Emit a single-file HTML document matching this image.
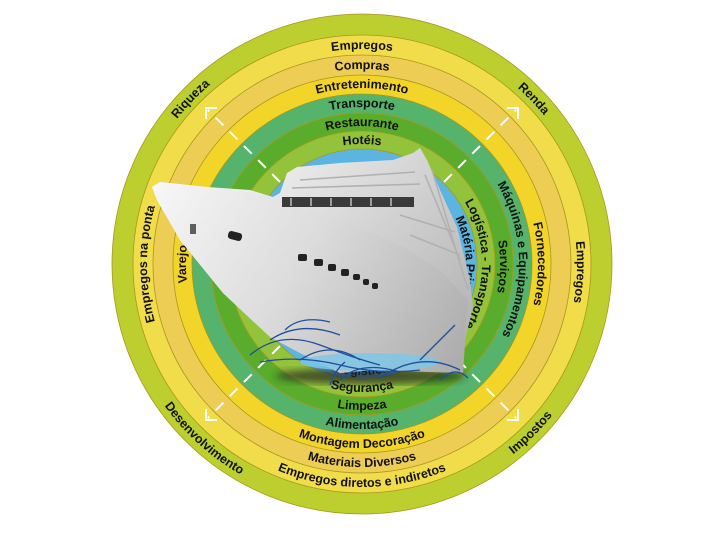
<!DOCTYPE html>
<html><head><meta charset="utf-8"><style>
html,body{margin:0;padding:0;background:#fff;width:720px;height:540px;overflow:hidden}
text{font-family:"Liberation Sans",sans-serif;font-weight:bold;font-size:12.5px;fill:#111}
</style></head><body>
<svg width="720" height="540" viewBox="0 0 720 540" xmlns="http://www.w3.org/2000/svg">
<defs>
<linearGradient id="hull" x1="150" y1="180" x2="470" y2="380" gradientUnits="userSpaceOnUse">
<stop offset="0" stop-color="#f8f8f8"/><stop offset="0.45" stop-color="#dcdcdc"/><stop offset="1" stop-color="#a8a8a8"/></linearGradient>
<linearGradient id="sup" x1="280" y1="150" x2="470" y2="320" gradientUnits="userSpaceOnUse">
<stop offset="0" stop-color="#eeeeee"/><stop offset="1" stop-color="#b5b5b5"/></linearGradient>
<filter id="bl"><feGaussianBlur stdDeviation="4"/></filter>
<path id="c235" d="M362,499 A235,235 0 1 1 362,29 A235,235 0 1 1 362,499"/>
<path id="c215" d="M362,479 A215,215 0 1 1 362,49 A215,215 0 1 1 362,479"/>
<path id="c195" d="M362,459 A195,195 0 1 1 362,69 A195,195 0 1 1 362,459"/>
<path id="c176" d="M362,440 A176,176 0 1 1 362,88 A176,176 0 1 1 362,440"/>
<path id="c157" d="M362,421 A157,157 0 1 1 362,107 A157,157 0 1 1 362,421"/>
<path id="c138" d="M362,402 A138,138 0 1 1 362,126 A138,138 0 1 1 362,402"/>
<path id="c120" d="M362,384 A120,120 0 1 1 362,144 A120,120 0 1 1 362,384"/>
<path id="c104" d="M362,368 A104,104 0 1 1 362,160 A104,104 0 1 1 362,368"/>
<path id="a243" d="M362,21 A243,243 0 1 0 362,507 A243,243 0 1 0 362,21"/>
<path id="a223" d="M362,41 A223,223 0 1 0 362,487 A223,223 0 1 0 362,41"/>
<path id="a203" d="M362,61 A203,203 0 1 0 362,467 A203,203 0 1 0 362,61"/>
<path id="a184" d="M362,80 A184,184 0 1 0 362,448 A184,184 0 1 0 362,80"/>
<path id="a165" d="M362,99 A165,165 0 1 0 362,429 A165,165 0 1 0 362,99"/>
<path id="a146" d="M362,118 A146,146 0 1 0 362,410 A146,146 0 1 0 362,118"/>
<path id="a128" d="M362,136 A128,128 0 1 0 362,392 A128,128 0 1 0 362,136"/>
<path id="a111" d="M362,153 A111,111 0 1 0 362,375 A111,111 0 1 0 362,153"/>
</defs>
<g stroke="#a8981c" stroke-width="0.8">
<circle cx="362" cy="264" r="250" fill="#bccf2e"/>
<circle cx="362" cy="264" r="229" fill="#f1dd4a"/>
<circle cx="362" cy="264" r="209" fill="#eecd55"/>
<circle cx="362" cy="264" r="189" fill="#f3d52a"/>
<circle cx="362" cy="264" r="170" fill="#55b36b"/>
<circle cx="362" cy="264" r="151" fill="#5aad2c"/>
<circle cx="362" cy="264" r="133" fill="#93c23b"/>
<circle cx="362" cy="264" r="115" fill="#5bb5e0"/>
</g>
<text><textPath href="#c235" startOffset="37.2%" text-anchor="middle">Riqueza</textPath></text>
<text><textPath href="#c235" startOffset="62.8%" text-anchor="middle">Renda</textPath></text>
<text><textPath href="#a243" startOffset="62.5%" text-anchor="middle">Impostos</textPath></text>
<text><textPath href="#a243" startOffset="38.3%" text-anchor="middle">Desenvolvimento</textPath></text>
<text><textPath href="#c215" startOffset="50%" text-anchor="middle">Empregos</textPath></text>
<text><textPath href="#c195" startOffset="50%" text-anchor="middle">Compras</textPath></text>
<text><textPath href="#c176" startOffset="50%" text-anchor="middle">Entretenimento</textPath></text>
<text><textPath href="#c157" startOffset="50%" text-anchor="middle">Transporte</textPath></text>
<text><textPath href="#c138" startOffset="50%" text-anchor="middle">Restaurante</textPath></text>
<text><textPath href="#c120" startOffset="50%" text-anchor="middle">Hotéis</textPath></text>
<text><textPath href="#c215" startOffset="75.6%" text-anchor="middle">Empregos</textPath></text>
<text><textPath href="#c176" startOffset="75%" text-anchor="middle">Fornecedores</textPath></text>
<text><textPath href="#c157" startOffset="74.5%" text-anchor="middle">Máquinas e Equipamentos</textPath></text>
<text><textPath href="#c138" startOffset="75.3%" text-anchor="middle">Serviços</textPath></text>
<text><textPath href="#c120" startOffset="75%" text-anchor="middle">Logística - Transporte</textPath></text>
<text><textPath href="#c104" startOffset="74%" text-anchor="middle">Matéria Prima</textPath></text>
<text><textPath href="#c215" startOffset="25%" text-anchor="middle">Empregos na ponta</textPath></text>
<text><textPath href="#c176" startOffset="25%" text-anchor="middle">Varejo</textPath></text>
<text><textPath href="#a223" startOffset="50%" text-anchor="middle">Empregos diretos e indiretos</textPath></text>
<text><textPath href="#a203" startOffset="50%" text-anchor="middle">Materiais Diversos</textPath></text>
<text><textPath href="#a184" startOffset="50%" text-anchor="middle">Montagem Decoração</textPath></text>
<text><textPath href="#a165" startOffset="50%" text-anchor="middle">Alimentação</textPath></text>
<text><textPath href="#a146" startOffset="50%" text-anchor="middle">Limpeza</textPath></text>
<text><textPath href="#a128" startOffset="50%" text-anchor="middle">Segurança</textPath></text>
<text><textPath href="#a111" startOffset="50%" text-anchor="middle">Logística</textPath></text>
<g stroke="#fff" stroke-width="2" fill="none" stroke-dasharray="11,9">
<line x1="444" y1="182" x2="516" y2="110"/>
<line x1="280" y1="182" x2="208" y2="110"/>
<line x1="444" y1="346" x2="516" y2="418"/>
<line x1="280" y1="346" x2="208" y2="418"/>
</g>
<g stroke="#fff" stroke-width="2" fill="none">
<polyline points="507,108 518,108 518,119"/>
<polyline points="217,108 206,108 206,119"/>
<polyline points="507,420 518,420 518,409"/>
<polyline points="217,420 206,420 206,409"/>
</g>
<ellipse cx="370" cy="376" rx="95" ry="8" fill="#222" opacity="0.7" filter="url(#bl)"/>
<path d="M152,187 L160,182 L207,187 L250,190 L273,197 L280,193 L287,173 L297,167 L340,163 L393,160 L413,153 L420,148 L427,160 L440,190 L457,227 L470,280 L473,307 L465,340 L463,373 L373,370 L340,373 L300,353 L270,337 L223,293 L180,240 L157,200 Z" fill="url(#sup)"/>
<path d="M152,187 L160,182 L207,187 L250,192 L300,205 L350,222 L400,245 L440,270 L468,300 L465,340 L463,373 L373,370 L340,373 L300,353 L270,337 L223,293 L180,240 L157,200 Z" fill="url(#hull)"/>
<g stroke="#b0b0b0" stroke-width="1.5" fill="none">
<path d="M300,180 L415,172"/><path d="M292,188 L420,184"/>
<path d="M425,175 L460,260"/><path d="M432,170 L468,290"/>
<path d="M400,215 L455,232"/><path d="M410,235 L460,255"/>
</g>
<rect x="282" y="197" width="132" height="10" fill="#3a3a3a"/>
<g fill="#fff" opacity="0.5"><rect x="290" y="198" width="2" height="8"/><rect x="310" y="198" width="2" height="8"/><rect x="330" y="198" width="2" height="8"/><rect x="350" y="198" width="2" height="8"/><rect x="370" y="198" width="2" height="8"/><rect x="390" y="198" width="2" height="8"/></g>
<g fill="#222">
<rect x="228" y="232" width="14" height="8" rx="3" transform="rotate(15 235 236)"/>
<rect x="298" y="254" width="9" height="7" rx="2"/><rect x="314" y="259" width="9" height="7" rx="2"/>
<rect x="328" y="264" width="8" height="7" rx="2"/><rect x="341" y="269" width="8" height="7" rx="2"/>
<rect x="353" y="274" width="7" height="6" rx="2"/><rect x="363" y="279" width="6" height="6" rx="2"/>
<rect x="372" y="283" width="6" height="6" rx="2"/>
<rect x="190" y="224" width="6" height="10" opacity="0.7"/>
</g>
<ellipse cx="370" cy="362" rx="70" ry="9" fill="#7cc7ea" opacity="0.8"/>
<g stroke="#1d4f9e" stroke-width="1.3" fill="none">
<path d="M250,355 Q280,330 320,345 T380,365"/><path d="M270,340 Q300,320 340,335"/>
<path d="M285,330 Q300,315 330,322"/><path d="M260,362 Q300,355 340,365 T420,370"/>
<path d="M380,378 Q420,350 460,370"/><path d="M420,360 Q440,340 455,325"/>
<path d="M300,360 Q330,340 360,360"/><path d="M340,380 Q360,360 400,372"/>
<path d="M440,380 Q455,365 468,378"/><path d="M330,385 Q335,370 345,362"/>
</g>
</svg>
</body></html>
